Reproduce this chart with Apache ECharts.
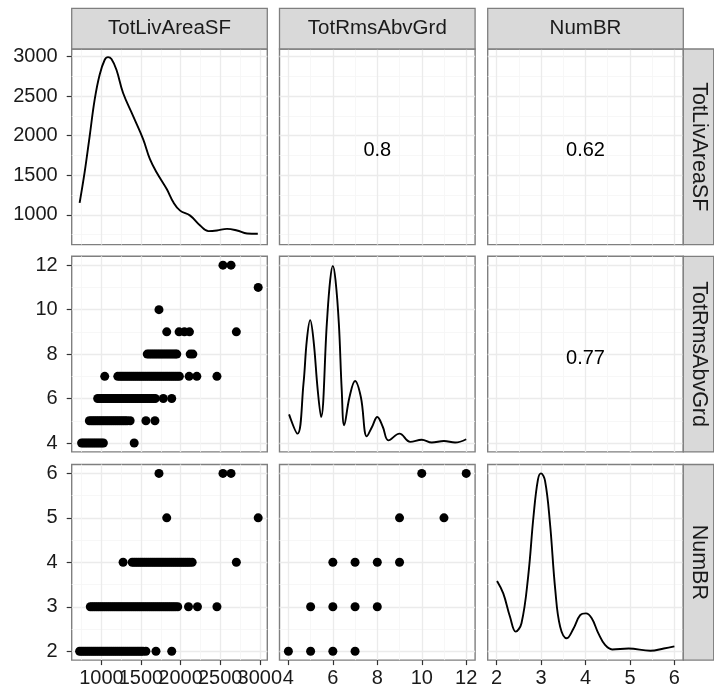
<!DOCTYPE html>
<html><head><meta charset="utf-8">
<script src="https://cdn.jsdelivr.net/npm/echarts@6/dist/echarts.min.js"></script>
<style>html,body{margin:0;padding:0;background:#fff}#c{width:714px;height:690px}</style>
</head><body><div id="c"></div>
<script>
// ---- variables & axes ----
const varNames = ['TotLivAreaSF', 'TotRmsAbvGrd', 'NumBR'];
const livRange = [625, 3095];
const rmsRange = [3.6, 12.4];
const brRange = [1.8, 6.2];
const livMajor = [1000, 1500, 2000, 2500, 3000];
const livMinor = [750, 1250, 1750, 2250, 2750];
const rmsMajor = [4, 6, 8, 10, 12];
const rmsMinor = [5, 7, 9, 11];
const brMajor = [2, 3, 4, 5, 6];
const brMinor = [2.5, 3.5, 4.5, 5.5];

// ---- diagonal densities (in axis units) ----
const livDensity = [[725,1151],[788,1536],[852,1996],[915,2456],[978,2770],[1042,2959],[1084,2993],[1127,2968],[1190,2833],[1274,2540],[1401,2247],[1528,1954],[1613,1703],[1698,1536],[1825,1326],[1909,1159],[1994,1054],[2121,991],[2247,866],[2353,795],[2459,803],[2586,824],[2713,803],[2840,765],[2975,762]];
const rmsDensity = [[4.03,5.29],[4.41,4.42],[4.68,6.68],[4.83,8.63],[4.98,9.53],[5.13,8.63],[5.32,6.38],[5.47,5.17],[5.73,9.38],[5.88,11.33],[6.0,11.97],[6.12,11.33],[6.27,9.38],[6.4,6.38],[6.51,4.8],[6.75,6.07],[7.0,6.79],[7.26,6.07],[7.53,4.3],[7.76,4.72],[8.0,5.17],[8.25,4.72],[8.5,4.12],[9.0,4.42],[9.48,4.05],[10.0,4.15],[10.45,4.02],[11.0,4.09],[11.5,4.02],[12.0,4.17]];
const brDensity = [[2.01,3.58],[2.15,3.30],[2.30,2.78],[2.43,2.44],[2.56,2.63],[2.71,3.68],[2.83,5.03],[2.93,5.86],[3.0,6.0],[3.09,5.83],[3.20,4.89],[3.32,3.38],[3.43,2.55],[3.58,2.29],[3.73,2.51],[3.88,2.81],[4.01,2.85],[4.14,2.74],[4.29,2.40],[4.44,2.14],[4.60,2.04],[4.97,2.06],[5.46,2.01],[5.76,2.06],[6.0,2.11]];

// ---- TotLivAreaSF values at each TotRmsAbvGrd level ----
const livAtRms4 = [750,775,800,825,850,875,900,925,950,975,1000,1025,1414];
const livAtRms5 = [848,875,900,925,950,975,1000,1025,1050,1075,1100,1125,1150,1175,1200,1225,1250,1275,1300,1325,1363,1562,1676];
const livAtRms6 = [953,980,1005,1030,1055,1080,1105,1130,1155,1180,1205,1230,1255,1280,1305,1330,1355,1380,1405,1430,1455,1480,1505,1530,1555,1580,1605,1630,1655,1680,1782,1888];
const livAtRms7 = [1042,1207,1235,1260,1285,1310,1335,1360,1385,1410,1435,1460,1485,1510,1535,1560,1585,1610,1635,1660,1685,1710,1735,1760,1785,1810,1835,1860,1885,1910,1935,1960,1985,2108,2205,2459];
const livAtRms8 = [1579,1605,1630,1655,1680,1705,1730,1755,1780,1805,1830,1855,1880,1905,1930,1952,2121,2155];
const livAtRms9 = [1825,1981,2048,2112,2704];
const livAtRms10 = [1727];
const livAtRms11 = [2980];
const livAtRms12 = [2535,2637];

// ---- TotLivAreaSF values at each NumBR level ----
const livAtBr2 = [725,750,775,800,825,850,875,900,925,950,975,1000,1025,1050,1075,1100,1125,1150,1175,1200,1225,1250,1275,1300,1325,1350,1375,1400,1425,1450,1475,1500,1525,1562,1689,1888];
const livAtBr3 = [860,885,910,935,960,985,1010,1035,1060,1085,1110,1135,1160,1185,1210,1235,1260,1285,1310,1335,1360,1385,1410,1435,1460,1485,1510,1535,1560,1585,1610,1635,1660,1685,1710,1735,1760,1785,1810,1835,1860,1885,1910,1935,1964,2100,2213,2459];
const livAtBr4 = [1274,1389,1415,1440,1465,1490,1515,1540,1565,1590,1615,1640,1665,1690,1715,1740,1765,1790,1815,1840,1865,1890,1915,1940,1965,1990,2015,2040,2065,2090,2115,2146,2704];
const livAtBr5 = [1825,2980];
const livAtBr6 = [1727,2535,2637];

// ---- TotRmsAbvGrd vs NumBR ----
const rmsBrPairs = [[4,2],[5,2],[6,2],[7,2],[5,3],[6,3],[7,3],[8,3],[6,4],[7,4],[8,4],[9,4],[9,5],[11,5],[10,6],[12,6]];

// ---- correlations (upper panels) ----
const corrLabels = [
  {row: 0, col: 1, text: '0.8'},
  {row: 0, col: 2, text: '0.62'},
  {row: 1, col: 2, text: '0.77'}
];

// ---------------------------------------------------
const FONT = '"Liberation Sans", Arial, Helvetica, sans-serif';
const colLeft = [71.7, 279.5, 487.7];
const rowTop = [49, 256.3, 464.5];
const W = 195.6, H = 195.6;
const ranges = [livRange, rmsRange, brRange];
const majors = [livMajor, rmsMajor, brMajor];
const minors = [livMinor, rmsMinor, brMinor];

function levelPairs(levels) {
  const out = [];
  levels.forEach(([lv, arr]) => arr.forEach(v => out.push([v, lv])));
  return out;
}
const livRms = levelPairs([[4,livAtRms4],[5,livAtRms5],[6,livAtRms6],[7,livAtRms7],[8,livAtRms8],[9,livAtRms9],[10,livAtRms10],[11,livAtRms11],[12,livAtRms12]]);
const livBr = levelPairs([[2,livAtBr2],[3,livAtBr3],[4,livAtBr4],[5,livAtBr5],[6,livAtBr6]]);

// labels of the bottom x axes are split over two axes so that ECharts keeps all of them
// (the reference shows them overlapping)
const evenOf = a => a.filter((_, i) => i % 2 === 0);
const oddOf = a => a.filter((_, i) => i % 2 === 1);

const labelBase = {fontSize: 20, color: '#1a1a1a', fontFamily: FONT, formatter: val => String(val),
  hideOverlap: false, showMinLabel: true, showMaxLabel: true};

const grids = [], xAxes = [], yAxes = [], series = [];
function mainAxis(isX, v, g, show) {
  const labVals = (isX && show) ? evenOf(majors[v]) : majors[v];
  return {
    type: 'value', gridIndex: g, min: ranges[v][0], max: ranges[v][1],
    position: isX ? 'bottom' : 'left',
    axisLine: {show: false},
    axisTick: {show: show, length: 5, lineStyle: {color: '#333', width: 1.2}, customValues: majors[v]},
    axisLabel: Object.assign({show: show, customValues: labVals, margin: isX ? 8 : 14}, labelBase),
    splitLine: {show: true, lineStyle: {color: '#ebebeb', width: 1.3}}
  };
}
function minorAxis(isX, v, g, show) {
  const a = {
    type: 'value', gridIndex: g, min: ranges[v][0], max: ranges[v][1],
    position: isX ? 'top' : 'right',
    axisLine: {show: false},
    axisTick: {show: false, customValues: minors[v]},
    axisLabel: {show: false, customValues: minors[v]},
    splitLine: {show: true, lineStyle: {color: '#f5f5f5', width: 0.8}}
  };
  if (isX && show) {
    // moved down to the bottom edge of the panel, labels drawn outward (below)
    a.offset = -H;
    a.axisLabel = Object.assign({show: true, inside: true, customValues: oddOf(majors[v]), margin: 8}, labelBase);
  }
  return a;
}
for (let r = 0; r < 3; r++) {
  for (let c = 0; c < 3; c++) {
    const g = r * 3 + c;
    grids.push({left: colLeft[c], top: rowTop[r], width: W, height: H, show: true,
      borderColor: '#7f7f7f', borderWidth: 1.4, backgroundColor: '#fff', containLabel: false, outerBoundsMode: 'none'});
    xAxes.push(mainAxis(true, c, g, r === 2));
    xAxes.push(minorAxis(true, c, g, r === 2));
    yAxes.push(mainAxis(false, r, g, c === 0));
    yAxes.push(minorAxis(false, r, g, false));
  }
}
function idx(r, c) { return 2 * (r * 3 + c); }

const densities = [livDensity, rmsDensity, brDensity];
for (let i = 0; i < 3; i++) {
  series.push({type: 'line', xAxisIndex: idx(i, i), yAxisIndex: idx(i, i), data: densities[i],
    smooth: 0.4, showSymbol: false, symbol: 'none', lineStyle: {color: '#000', width: 1.9}, z: 5});
}
const scatterCells = [[1, 0, livRms], [2, 0, livBr], [2, 1, rmsBrPairs]];
scatterCells.forEach(([r, c, d]) => {
  series.push({type: 'scatter', xAxisIndex: idx(r, c), yAxisIndex: idx(r, c), data: d,
    symbolSize: 9, itemStyle: {color: '#000', opacity: 1}, z: 5});
});
corrLabels.forEach(o => {
  const xr = ranges[o.col], yr = ranges[o.row];
  series.push({type: 'scatter', xAxisIndex: idx(o.row, o.col), yAxisIndex: idx(o.row, o.col),
    data: [[(xr[0] + xr[1]) / 2, (yr[0] + yr[1]) / 2]], symbolSize: 1,
    itemStyle: {color: '#ffffff', opacity: 1}, silent: true, z: 6,
    label: {show: true, position: 'inside', offset: [0, 4], formatter: o.text, fontSize: 20,
      color: '#000', opacity: 1, textBorderWidth: 0, fontFamily: FONT}});
});

const graphic = [];
for (let c = 0; c < 3; c++) {
  graphic.push({type: 'rect', z: 100, shape: {x: colLeft[c], y: 8.3, width: W, height: 49 - 8.3},
    style: {fill: '#d9d9d9', stroke: '#7f7f7f', lineWidth: 1.3}});
  graphic.push({type: 'text', z: 101, x: colLeft[c] + W / 2, y: 8.3 + (49 - 8.3) / 2,
    style: {text: varNames[c], align: 'center', verticalAlign: 'middle', fontSize: 20.5, fontFamily: FONT, fill: '#1a1a1a'}});
}
for (let r = 0; r < 3; r++) {
  graphic.push({type: 'rect', z: 100, shape: {x: colLeft[2] + W, y: rowTop[r], width: 30.4, height: H},
    style: {fill: '#d9d9d9', stroke: '#7f7f7f', lineWidth: 1.3}});
  graphic.push({type: 'text', z: 101, x: colLeft[2] + W + 15.2, y: rowTop[r] + H / 2, rotation: -Math.PI / 2,
    style: {text: varNames[r], align: 'center', verticalAlign: 'middle', fontSize: 21.5, fontFamily: FONT, fill: '#1a1a1a'}});
}

const chart = echarts.init(document.getElementById('c'), null, {renderer: 'canvas'});
chart.setOption({
  animation: false,
  backgroundColor: '#fff',
  textStyle: {fontFamily: FONT},
  grid: grids, xAxis: xAxes, yAxis: yAxes, series: series, graphic: graphic
});
</script></body></html>
